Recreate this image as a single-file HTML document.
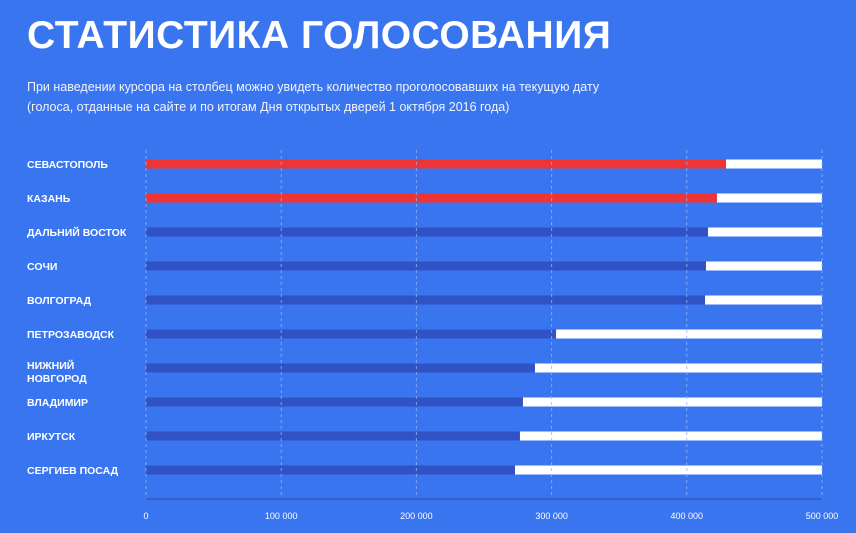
<!DOCTYPE html>
<html><head><meta charset="utf-8"><style>
body{margin:0;width:856px;height:533px;background:#3a75f0;font-family:"Liberation Sans",sans-serif;color:#fff;overflow:hidden;position:relative}
h1{position:absolute;left:27px;top:14px;margin:0;font-size:39px;font-weight:900;letter-spacing:0.5px}
.sub{position:absolute;left:27px;font-size:12.5px;color:#f0f4ff}
</style></head><body>
<h1>СТАТИСТИКА ГОЛОСОВАНИЯ</h1>
<div class="sub" style="top:80px">При наведении курсора на столбец можно увидеть количество проголосовавших на текущую дату</div>
<div class="sub" style="top:100px">(голоса, отданные на сайте и по итогам Дня открытых дверей 1 октября 2016 года)</div>
<svg id="chart" width="856" height="533" style="position:absolute;left:0;top:0"></svg>
<script>
const categories=["СЕВАСТОПОЛЬ","КАЗАНЬ","ДАЛЬНИЙ ВОСТОК","СОЧИ","ВОЛГОГРАД","ПЕТРОЗАВОДСК","НИЖНИЙ|НОВГОРОД","ВЛАДИМИР","ИРКУТСК","СЕРГИЕВ ПОСАД"];
const values=[429000,422300,415700,414200,413500,303300,287700,278800,276600,272900];
const highlighted=[true,true,false,false,false,false,false,false,false,false];
const ticks=[0,100000,200000,300000,400000,500000];
const tickLabels=["0","100 000","200 000","300 000","400 000","500 000"];
const maxV=500000;
const svg=document.getElementById('chart');
const NS="http://www.w3.org/2000/svg";
const x0=146,x1=822,yTop=164,step=34,bh=9;
const X=v=>x0+(v/maxV)*(x1-x0);
const Y=i=>yTop+i*step;
function mk(t,a){const e=document.createElementNS(NS,t);for(const k in a)e.setAttribute(k,a[k]);svg.appendChild(e);return e;}
categories.forEach((c,i)=>{
  const tr=mk('rect',{x:x0,y:Y(i)-bh/2,width:x1-x0,height:bh,fill:'#ffffff'});
  
  
  const b=mk('rect',{x:x0,y:Y(i)-bh/2,width:X(values[i])-x0,height:bh,fill:highlighted[i]?'#ee3434':'#3052c4'});
  
  
  const parts=c.split('|');
  const t=mk('text',{x:27,y:parts.length>1?Y(i)+1:Y(i)+4,fill:'#fff','font-size':'10.5','font-weight':'bold','font-family':'Liberation Sans, sans-serif'});
  
  
  parts.forEach((p,j)=>{const ts=document.createElementNS(NS,'tspan');ts.setAttribute('x',27);if(j)ts.setAttribute('dy',13);ts.textContent=p;t.appendChild(ts);});
});
ticks.forEach((v,i)=>{
  const g=mk('line',{x1:X(v),x2:X(v),y1:150,y2:499,stroke:'#8fb2ff','stroke-width':1,'stroke-dasharray':'3,3',opacity:0.8});
  
  
  const t=mk('text',{x:X(v),y:519,fill:'#fff','font-size':'9','text-anchor':'middle','font-family':'Liberation Sans, sans-serif'});
  t.textContent=tickLabels[i];
  
  
});
const ax=mk('line',{x1:x0,x2:x1,y1:499,y2:499,stroke:'#2a4aa8','stroke-width':1});


</script>
</body></html>
